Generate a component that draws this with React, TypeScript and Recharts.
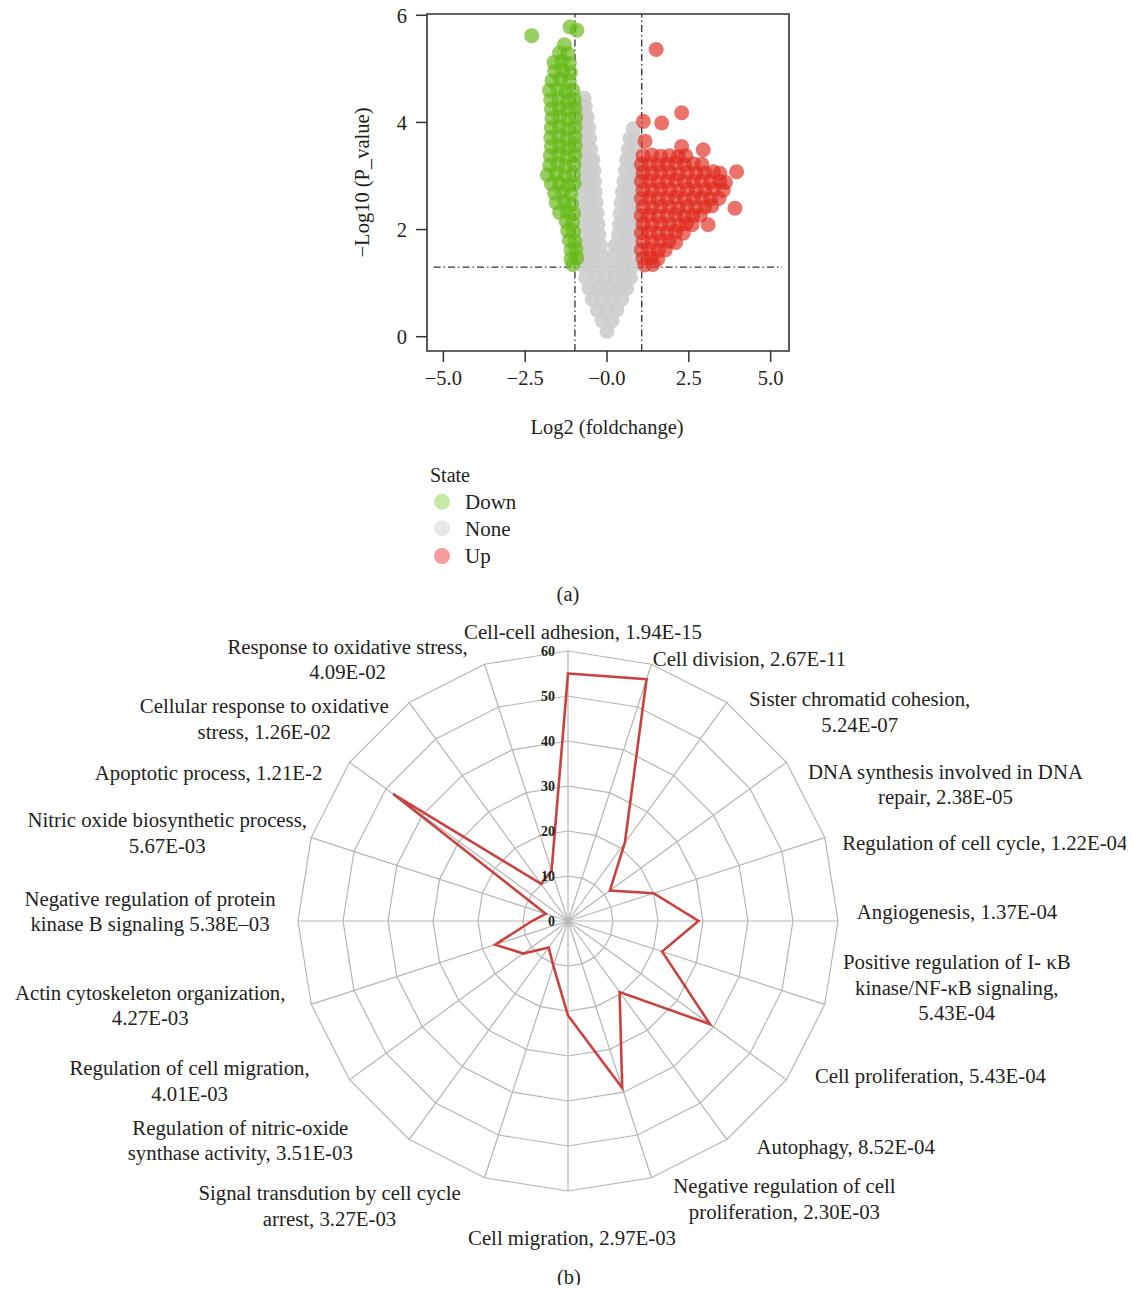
import React from 'react';
import {
  ScatterChart, Scatter, XAxis, YAxis, ReferenceLine, ReferenceArea,
  RadarChart, Radar, PolarGrid, PolarAngleAxis, PolarRadiusAxis,
} from 'recharts';

const FONT = '"Liberation Serif", "Times New Roman", serif';
const INK = '#231f20';

// ---------- (a) volcano plot data: [log2 fold change, -log10 p] ----------
const downPoints: [number, number][] = [
  [-2.3, 5.62], [-1.13, 5.78], [-0.92, 5.72],
  [-1.3, 5.45],
  [-1.45, 5.3], [-1.2, 5.28],
  [-1.62, 5.12], [-1.38, 5.14], [-1.15, 5.1],
  [-1.6, 4.95], [-1.35, 4.96], [-1.12, 4.93],
  [-1.68, 4.78], [-1.42, 4.8], [-1.15, 4.77],
  [-1.76, 4.6], [-1.5, 4.62], [-1.25, 4.58], [-1.04, 4.6],
  [-1.72, 4.42], [-1.47, 4.44], [-1.2, 4.4], [-1.0, 4.43],
  [-1.7, 4.25], [-1.45, 4.26], [-1.2, 4.24], [-0.98, 4.27],
  [-1.68, 4.08], [-1.44, 4.1], [-1.18, 4.06], [-0.96, 4.09],
  [-1.7, 3.9], [-1.45, 3.92], [-1.2, 3.88], [-0.97, 3.91],
  [-1.72, 3.72], [-1.47, 3.74], [-1.22, 3.7], [-0.98, 3.73],
  [-1.7, 3.55], [-1.45, 3.56], [-1.2, 3.53], [-0.97, 3.56],
  [-1.73, 3.38], [-1.48, 3.4], [-1.22, 3.36], [-0.98, 3.39],
  [-1.75, 3.2], [-1.5, 3.22], [-1.25, 3.18], [-1.0, 3.21],
  [-1.82, 3.02], [-1.55, 3.04], [-1.28, 3.0], [-1.02, 3.03],
  [-1.7, 2.85], [-1.45, 2.87], [-1.2, 2.83], [-1.0, 2.86],
  [-1.6, 2.68], [-1.35, 2.7], [-1.1, 2.66],
  [-1.55, 2.5], [-1.3, 2.52], [-1.08, 2.48],
  [-1.45, 2.32], [-1.22, 2.34], [-1.02, 2.3],
  [-1.25, 2.15], [-1.05, 2.13],
  [-1.2, 1.98], [-1.02, 1.96],
  [-1.15, 1.8], [-0.98, 1.78],
  [-1.1, 1.62], [-0.95, 1.64],
  [-1.1, 1.45], [-0.92, 1.47],
  [-1.05, 1.35],
];

const nonePoints: [number, number][] = [
  [0.0, 0.1],
  [-0.15, 0.3], [0.15, 0.3],
  [-0.3, 0.5], [0.0, 0.5], [0.3, 0.5],
  [-0.45, 0.7], [-0.15, 0.7], [0.15, 0.7], [0.45, 0.7],
  [-0.55, 0.9], [-0.25, 0.9], [0.05, 0.9], [0.35, 0.9], [0.6, 0.9],
  [-0.65, 1.1], [-0.35, 1.1], [-0.05, 1.1], [0.25, 1.1], [0.5, 1.1], [0.72, 1.1],
  [-0.7, 1.3], [-0.4, 1.3], [-0.1, 1.3], [0.2, 1.3], [0.48, 1.3], [0.75, 1.3],
  [-0.7, 1.5], [-0.42, 1.5], [-0.12, 1.5], [0.2, 1.5], [0.5, 1.5], [0.75, 1.5],
  [-0.7, 1.7], [-0.45, 1.7], [-0.2, 1.7], [0.25, 1.7], [0.5, 1.7], [0.76, 1.7],
  [-0.7, 1.9], [-0.45, 1.9], [-0.25, 1.9], [0.35, 1.9], [0.6, 1.9], [0.8, 1.9],
  [-0.7, 2.1], [-0.47, 2.1], [-0.27, 2.1], [0.38, 2.1], [0.62, 2.1], [0.82, 2.1],
  [-0.7, 2.3], [-0.47, 2.3], [-0.3, 2.3], [0.4, 2.3], [0.64, 2.3], [0.84, 2.3],
  [-0.72, 2.5], [-0.5, 2.5], [-0.33, 2.5], [0.43, 2.5], [0.66, 2.5], [0.85, 2.5],
  [-0.72, 2.7], [-0.5, 2.7], [-0.36, 2.7], [0.47, 2.7], [0.69, 2.7], [0.87, 2.7],
  [-0.72, 2.9], [-0.52, 2.9], [-0.38, 2.9], [0.52, 2.9], [0.72, 2.9], [0.88, 2.9],
  [-0.72, 3.1], [-0.52, 3.1], [-0.4, 3.1], [0.56, 3.1], [0.75, 3.1], [0.9, 3.1],
  [-0.72, 3.3], [-0.52, 3.3], [-0.43, 3.3], [0.6, 3.3], [0.78, 3.3],
  [-0.72, 3.5], [-0.5, 3.5], [0.65, 3.5], [0.82, 3.5],
  [-0.72, 3.7], [-0.53, 3.7], [0.7, 3.7], [0.85, 3.7],
  [-0.72, 3.9], [-0.56, 3.9], [0.8, 3.88],
  [-0.72, 4.1], [-0.6, 4.1],
  [-0.72, 4.3], [-0.66, 4.3],
  [-0.7, 4.45],
];

const upPoints: [number, number][] = [
  [1.1, 3.38], [1.37, 3.39], [1.64, 3.37], [1.91, 3.38], [2.18, 3.36], [2.4, 3.38],
  [1.05, 3.22], [1.3, 3.23], [1.57, 3.21], [1.84, 3.22], [2.1, 3.24], [2.37, 3.21], [2.64, 3.23], [2.9, 3.22],
  [1.1, 3.06], [1.37, 3.05], [1.64, 3.07], [1.91, 3.06], [2.18, 3.04], [2.45, 3.07], [2.72, 3.05], [2.99, 3.06], [3.25, 3.08], [3.45, 3.05],
  [1.05, 2.9], [1.3, 2.91], [1.57, 2.89], [1.84, 2.9], [2.1, 2.92], [2.37, 2.89], [2.64, 2.9], [2.9, 2.91], [3.17, 2.89], [3.45, 2.9], [3.62, 2.88],
  [1.1, 2.74], [1.37, 2.73], [1.64, 2.75], [1.91, 2.74], [2.18, 2.72], [2.45, 2.75], [2.72, 2.73], [2.99, 2.74], [3.25, 2.76], [3.55, 2.73],
  [1.05, 2.58], [1.3, 2.59], [1.57, 2.57], [1.84, 2.58], [2.1, 2.6], [2.37, 2.57], [2.64, 2.58], [2.9, 2.59], [3.17, 2.57], [3.42, 2.58],
  [1.1, 2.42], [1.37, 2.41], [1.64, 2.43], [1.91, 2.42], [2.18, 2.4], [2.45, 2.43], [2.72, 2.41], [2.99, 2.42], [3.2, 2.44],
  [1.05, 2.26], [1.3, 2.27], [1.57, 2.25], [1.84, 2.26], [2.1, 2.28], [2.37, 2.25], [2.62, 2.26], [2.85, 2.27],
  [1.1, 2.1], [1.37, 2.09], [1.64, 2.11], [1.91, 2.1], [2.18, 2.08], [2.42, 2.11], [2.6, 2.09],
  [1.05, 1.94], [1.3, 1.95], [1.57, 1.93], [1.84, 1.94], [2.1, 1.96], [2.33, 1.93],
  [1.1, 1.78], [1.37, 1.77], [1.64, 1.79], [1.9, 1.78], [2.1, 1.76],
  [1.05, 1.62], [1.3, 1.63], [1.57, 1.61], [1.78, 1.62],
  [1.1, 1.46], [1.35, 1.47], [1.55, 1.45],
  [1.15, 1.34], [1.4, 1.35],
  [1.5, 5.36], [2.28, 4.18], [1.67, 3.99], [1.11, 4.02], [1.16, 3.65],
  [2.28, 3.55], [2.94, 3.49], [3.96, 3.08], [3.91, 2.4], [3.09, 2.09],
];

const xTicks = [-5, -2.5, 0, 2.5, 5];
const yTicks = [0, 2, 4, 6];
const xDomain: [number, number] = [-5.5, 5.56];
const yDomain: [number, number] = [-0.267, 6.024];
const foldThresholds = [-0.98, 1.06];
const pThreshold = 1.3;

// ---------- (b) radar data ----------
const categories = [
  'Cell-cell adhesion, 1.94E-15',
  'Cell division, 2.67E-11',
  'Sister chromatid cohesion,\n5.24E-07',
  'DNA synthesis involved in DNA\nrepair, 2.38E-05',
  'Regulation of cell cycle, 1.22E-04',
  'Angiogenesis, 1.37E-04',
  'Positive regulation of I- \u03baB\nkinase/NF-\u03baB signaling,\n5.43E-04',
  'Cell proliferation, 5.43E-04',
  'Autophagy, 8.52E-04',
  'Negative regulation of cell\nproliferation, 2.30E-03',
  'Cell migration, 2.97E-03',
  'Signal transdution by cell cycle\narrest, 3.27E-03',
  'Regulation of nitric-oxide\nsynthase activity, 3.51E-03',
  'Regulation of cell migration,\n4.01E-03',
  'Actin cytoskeleton organization,\n4.27E-03',
  'Negative regulation of protein\nkinase B signaling 5.38E\u201303',
  'Nitric oxide biosynthetic process,\n5.67E-03',
  'Apoptotic process, 1.21E-2',
  'Cellular response to oxidative\nstress, 1.26E-02',
  'Response to oxidative stress,\n4.09E-02',
];
const geneCounts = [55, 56.5, 21.5, 11.5, 20, 29, 22, 39, 19.5, 39, 21, 10.5, 7.3, 12.3, 17, 8, 5.2, 48, 10.2, 11.8];
const radiusDomain: [number, number] = [0, 60];

// layout (not data): label block centre offsets from each spoke end
const LABEL_OFFSETS: [number, number][] = [
  [15, -19], [98, -5], [133, 9], [159, 22], [160, 5], [119, -9], [132, -17], [144, -4],
  [119, 7], [133, 21], [4, 47], [-155, 28], [-169, 1], [-160, 1], [-161, 1], [-148, -10],
  [-144, -5], [-141, 10], [-145, 16], [-137, -5],
];

const RCX = 560;
const RCY = 353;
const RR = 270;

const toObjs = (arr: [number, number][]) => arr.map(([x, y]) => ({ x, y }));
const radarData = categories.map((name, i) => ({ name, value: geneCounts[i] }));

const dotShape = (fill: string, opacity: number) => (p: any) => (
  <circle cx={p.cx} cy={p.cy} r={7.5} fill={fill} fillOpacity={opacity} stroke="none" />
);

const fmtX = (v: number) => (v <= 0 ? '\u2212' + Math.abs(v).toFixed(1) : v.toFixed(1));

const AngleTick = (props: any) => {
  const val = props.payload?.value;
  let i = categories.indexOf(val);
  if (i < 0) i = props.index ?? 0;
  const ang = ((90 - i * 18) * Math.PI) / 180;
  const ex = RCX + RR * Math.cos(ang);
  const ey = RCY - RR * Math.sin(ang);
  const [dx, dy] = LABEL_OFFSETS[i];
  const lines = categories[i].split('\n');
  const bx = ex + dx;
  const by = ey + dy;
  const lh = 25.5;
  return (
    <g>
      {lines.map((l, k) => (
        <text key={k} x={bx} y={by + (k - (lines.length - 1) / 2) * lh} dy="0.35em"
          textAnchor="middle" fontFamily={FONT} fontSize={20.8} fill={INK}>{l}</text>
      ))}
    </g>
  );
};

const RadiusTick = (props: any) => (
  <text x={props.x - 13} y={props.y} dy="0.35em" textAnchor="end" fontFamily={FONT}
    fontSize={14} fontWeight="bold" fill={INK}>{props.payload?.value}</text>
);

export default function App() {
  const legend = [
    { label: 'Down', color: '#c6eaa6', y: 501.7 },
    { label: 'None', color: '#e8e8eb', y: 528.3 },
    { label: 'Up', color: '#f59a9e', y: 556 },
  ];
  return (
    <div style={{ position: 'relative', width: 1118, height: 1277 }}>
      <div style={{ position: 'absolute', left: 322, top: -8 }}>
        <ScatterChart width={470} height={450} margin={{ top: 14, right: 11, bottom: 59, left: 37 }}>
          <XAxis type="number" dataKey="x" domain={xDomain} allowDataOverflow ticks={xTicks}
            tickFormatter={fmtX} axisLine={false} tickSize={11} tickMargin={8} height={40}
            tickLine={{ stroke: '#333', strokeWidth: 1.5 }}
            tick={{ fill: INK, fontSize: 20.5, fontFamily: FONT }} />
          <YAxis type="number" dataKey="y" domain={yDomain} allowDataOverflow ticks={yTicks}
            axisLine={false} tickSize={11} tickMargin={9} width={60}
            tickLine={{ stroke: '#333', strokeWidth: 1.5 }}
            tick={{ fill: INK, fontSize: 20.5, fontFamily: FONT }} />
          <Scatter data={toObjs(nonePoints)} shape={dotShape('#cdcdcd', 0.9)} isAnimationActive={false} />
          <Scatter data={toObjs(downPoints)} shape={dotShape('#66b816', 0.68)} isAnimationActive={false} />
          <Scatter data={toObjs(upPoints)} shape={dotShape('#df2a1f', 0.66)} isAnimationActive={false} />
          {foldThresholds.map((t) => (
            <ReferenceLine key={t} x={t} stroke="#333" strokeWidth={1.3} strokeDasharray="7 3 1.5 3" />
          ))}
          <ReferenceLine segment={[{ x: -5.3, y: pThreshold }, { x: 5.35, y: pThreshold }]}
            stroke="#333" strokeWidth={1.3} strokeDasharray="7 3 1.5 3" />
          <ReferenceArea x1={xDomain[0]} x2={xDomain[1]} y1={yDomain[0]} y2={yDomain[1]}
            fill="none" stroke="#333" strokeWidth={1.6} ifOverflow="visible" />
        </ScatterChart>
      </div>

      <div style={{ position: 'absolute', left: 0, top: 560 }}>
        <RadarChart width={1118} height={700} cx={RCX} cy={RCY} outerRadius={RR}
          data={radarData} startAngle={90} endAngle={-270} margin={{ top: 0, right: 0, bottom: 0, left: 0 }}>
          <PolarGrid stroke="#b5b5b5" strokeWidth={1.2} />
          <PolarAngleAxis dataKey="name" tick={AngleTick} tickLine={false} axisLine={false} />
          <PolarRadiusAxis angle={90} domain={radiusDomain} tickCount={7} axisLine={false}
            tick={RadiusTick} />
          <Radar dataKey="value" stroke="#c8423f" strokeWidth={2.6} fill="none" fillOpacity={0}
            dot={false} isAnimationActive={false} />
        </RadarChart>
      </div>

      <svg width={1134} height={1293} style={{ position: 'absolute', left: -8, top: -8, pointerEvents: 'none' }}>
        <text x={362} y={182.5} dy="0.35em" textAnchor="middle" fontFamily={FONT} fontSize={20.5} fill={INK}
          transform="rotate(-90 362 182.5)">{'\u2212Log10 (P_value)'}</text>
        <text x={607} y={427} dy="0.35em" textAnchor="middle" fontFamily={FONT} fontSize={20.5} fill={INK}>Log2 (foldchange)</text>
        <text x={430} y={475} dy="0.35em" fontFamily={FONT} fontSize={20} fill={INK}>State</text>
        {legend.map((l) => (
          <g key={l.label}>
            <circle cx={442} cy={l.y} r={8} fill={l.color} />
            <text x={465} y={l.y} dy="0.35em" fontFamily={FONT} fontSize={21} fill={INK}>{l.label}</text>
          </g>
        ))}
        <text x={568} y={594} dy="0.35em" textAnchor="middle" fontFamily={FONT} fontSize={20.5} fill={INK}>(a)</text>
        <text x={569} y={1277} dy="0.35em" textAnchor="middle" fontFamily={FONT} fontSize={20.5} fill={INK}>(b)</text>
      </svg>
    </div>
  );
}
